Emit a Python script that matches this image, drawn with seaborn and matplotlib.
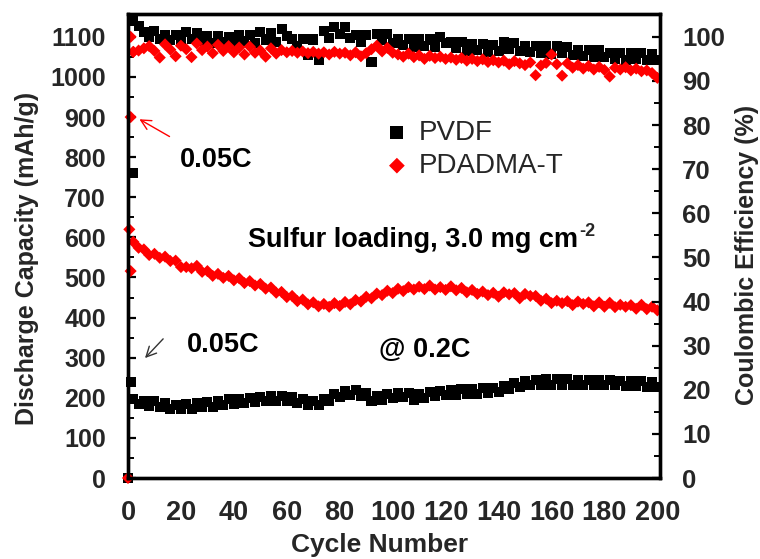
import matplotlib
matplotlib.use("Agg")
import matplotlib.pyplot as plt
import seaborn as sns

# cycle numbers of the 0.2C part (every second cycle)
cycles = list(range(2, 201, 2))

# discharge capacity, mAh/g
pvdf_capacity = [
    197, 184, 193, 180, 191, 177, 187, 172, 183, 171,
    184, 173, 186, 176, 189, 178, 192, 181, 196, 185,
    198, 187, 200, 189, 202, 191, 204, 192, 205, 191,
    202, 188, 196, 181, 193, 181, 198, 191, 209, 201,
    217, 206, 220, 205, 212, 193, 205, 194, 210, 199,
    213, 201, 211, 195, 209, 199, 215, 204, 218, 206,
    220, 208, 222, 209, 223, 210, 224, 211, 225, 214,
    230, 221, 238, 228, 243, 231, 245, 232, 246, 233,
    246, 233, 246, 232, 245, 232, 245, 231, 244, 231,
    244, 231, 243, 230, 242, 229, 241, 228, 240, 228,
]
pdadma_capacity = [
    589, 574, 570, 556, 559, 549, 552, 541, 542, 526,
    526, 523, 529, 514, 516, 504, 509, 499, 504, 493,
    498, 486, 491, 480, 484, 472, 475, 462, 464, 451,
    454, 441, 445, 433, 438, 428, 434, 427, 436, 429,
    439, 433, 444, 440, 452, 448, 460, 456, 467, 461,
    472, 466, 476, 470, 477, 471, 480, 470, 476, 469,
    478, 468, 474, 463, 469, 459, 465, 456, 462, 452,
    463, 458, 461, 448, 459, 454, 454, 442, 447, 436,
    442, 436, 441, 431, 440, 434, 438, 428, 438, 427,
    437, 426, 432, 427, 431, 422, 432, 421, 427, 418,
]

# coulombic efficiency, %
pvdf_ce = [
    103.6, 102.4, 101.2, 100.0, 101.4, 99.6, 100.5, 99.2, 100.4, 98.8,
    101.0, 99.5, 100.8, 99.0, 100.2, 98.6, 100.1, 98.9, 99.9, 98.4,
    100.5, 99.0, 100.4, 98.7, 101.0, 99.4, 100.9, 98.8, 101.8, 100.2,
    99.6, 98.0, 99.5, 96.0, 99.4, 94.8, 101.3, 99.8, 102.3, 100.6,
    102.2, 99.8, 100.5, 98.8, 100.4, 94.4, 100.7, 99.2, 100.6, 98.6,
    99.6, 98.2, 99.5, 97.8, 99.6, 98.0, 99.4, 97.6, 100.0, 98.6,
    98.9, 97.4, 98.8, 96.8, 98.3, 97.0, 98.3, 96.6, 98.2, 96.9,
    98.8, 97.2, 98.6, 96.8, 98.0, 96.5, 98.0, 96.4, 97.9, 96.2,
    97.9, 96.3, 97.6, 95.8, 97.1, 95.6, 97.1, 95.5, 97.0, 95.4,
    96.4, 95.0, 96.4, 94.8, 96.4, 94.9, 96.3, 94.7, 96.2, 94.8,
]
pdadma_ce = [
    96.6, 96.9, 97.4, 97.9, 96.8, 95.3, 98.3, 97.1, 95.6, 98.0,
    97.2, 95.4, 98.5, 97.0, 97.8, 96.3, 98.2, 96.8, 97.9, 96.5,
    97.6, 96.0, 97.8, 96.4, 96.9, 95.5, 97.4, 96.2, 97.0, 96.5,
    96.8, 96.4, 96.7, 96.3, 96.6, 96.2, 96.5, 96.0, 96.6, 96.2,
    96.4, 95.8, 96.5, 95.6, 96.3, 97.2, 98.0, 96.7, 97.5, 96.4,
    96.0, 95.5, 96.2, 95.4, 95.8, 95.0, 95.7, 95.2, 95.5, 95.0,
    95.3, 94.8, 95.2, 94.6, 95.0, 94.5, 94.9, 94.3, 94.7, 94.2,
    94.6, 93.8, 94.5, 94.0, 93.6, 94.2, 91.3, 93.5, 94.1, 96.0,
    93.8, 91.2, 94.0, 93.0, 93.6, 92.8, 93.4, 92.6, 93.2, 92.5,
    91.0, 93.0, 92.6, 93.1, 92.4, 92.8, 92.2, 92.4, 91.8, 90.7,
]

# first cycles (0.05C formation and the start points)
pvdf_first_cycles = [0, 1, 2]
pvdf_first_capacity = [0, 240, 760]
pdadma_first_cycles = [0, 1, 0.5, 1]
pdadma_first_capacity = [0, 900, 620, 516]
ce_first_cycles = [1, 2]
pvdf_first_ce = [104.3, 103.8]
pdadma_first_ce = [100.0, 96.6]

sns.set_style("white")
plt.rcParams["font.family"] = ["Liberation Sans", "DejaVu Sans"]

fig = plt.figure(figsize=(7.6, 5.59), dpi=100)
ax = fig.add_axes([128 / 760, 81 / 559, 532 / 760, 464 / 559])
ax2 = ax.twinx()

sq = dict(marker="s", color="black", s=52, edgecolor="none", linewidth=0)
dm = dict(marker="D", color="red", s=38, edgecolor="none", linewidth=0)

sns.scatterplot(x=cycles, y=pvdf_capacity, ax=ax, label="PVDF", **sq)
sns.scatterplot(x=cycles, y=pdadma_capacity, ax=ax, label="PDADMA-T", **dm)
sns.scatterplot(x=pvdf_first_cycles, y=pvdf_first_capacity, ax=ax, clip_on=False, **sq)
sns.scatterplot(x=pdadma_first_cycles, y=pdadma_first_capacity, ax=ax, clip_on=False, **dm)

sns.scatterplot(x=cycles, y=pvdf_ce, ax=ax2, **sq)
sns.scatterplot(x=ce_first_cycles, y=pvdf_first_ce, ax=ax2, **sq)
sns.scatterplot(x=cycles, y=pdadma_ce, ax=ax2, **dm)
sns.scatterplot(x=ce_first_cycles, y=pdadma_first_ce, ax=ax2, **dm)

ax.set_xlim(0, 201)
ax.set_ylim(0, 1157)
ax2.set_ylim(0, 1157 / 11)
ax.set_xticks(range(0, 201, 20))
ax.set_xticks(range(0, 201, 10), minor=True)
ax.set_yticks(range(0, 1101, 100))
ax.set_yticks(range(0, 1151, 50), minor=True)
ax2.set_yticks(range(0, 101, 10))
ax2.set_yticks(range(0, 105, 5), minor=True)

for a in (ax, ax2):
    a.tick_params(which="major", direction="in", length=6, width=1.6, pad=16, color="black")
    a.tick_params(which="minor", direction="in", length=4, width=1.4, color="black")
    for sp in a.spines.values():
        sp.set_linewidth(2.4)
        sp.set_color("black")
ax.tick_params(axis="x", labelsize=19.5)
ax.tick_params(axis="y", which="both", right=False, labelsize=18)
ax2.tick_params(axis="y", which="both", left=False, labelsize=18.5)
for lab in ax.get_xticklabels() + ax.get_yticklabels() + ax2.get_yticklabels():
    lab.set_fontweight("bold")

ax.set_xlabel("Cycle Number", fontsize=19, fontweight="bold")
ax.set_ylabel("Discharge Capacity (mAh/g)", fontsize=18, fontweight="bold")
ax2.set_ylabel("Coulombic Efficiency (%)", fontsize=18, fontweight="bold")
ax.xaxis.set_label_coords(0.472, -0.1185)
ax.yaxis.set_label_coords(-0.167, 0.474)
ax2.yaxis.set_label_coords(1.141, 0.48)

if ax.get_legend() is not None:
    ax.get_legend().remove()
handles, labels = ax.get_legend_handles_labels()
ax2.legend(handles, labels, loc="upper left", bbox_to_anchor=(358 / 760, 1 - 95 / 559),
           bbox_transform=fig.transFigure, frameon=False, fontsize=20,
           handletextpad=0.3, labelspacing=0.25, handlelength=1.0, markerscale=1.3)

txt = dict(fontsize=19.5, fontweight="bold", color="black", va="center", ha="left")
ax.text(19.6, 793, "0.05C", **txt)
sulfur = ax.text(45.3, 593, "Sulfur loading, 3.0 mg cm", **txt)
ax.annotate("-2", xy=(1, 1), xycoords=sulfur, xytext=(1, 3), textcoords="offset points",
            ha="left", va="top", fontsize=13, fontweight="bold")
ax.text(22.3, 332, "0.05C", **txt)
ax.text(95, 319, "@ 0.2C", **txt)

ax.annotate("", xy=(3.4, 898), xytext=(16.6, 848),
            arrowprops=dict(arrowstyle="->", color="red", lw=1.0, mutation_scale=18))
ax.annotate("", xy=(5.7, 294), xytext=(14, 352),
            arrowprops=dict(arrowstyle="->", color="#333333", lw=1.0, mutation_scale=18))

fig.savefig("out.png", dpi=100)
